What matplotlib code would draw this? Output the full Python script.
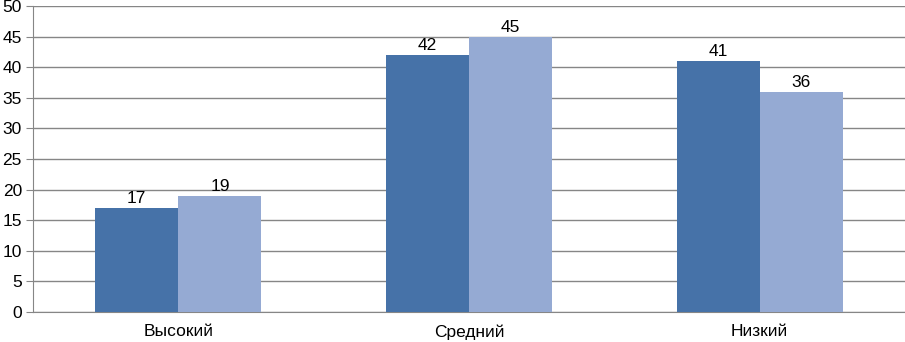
import matplotlib
matplotlib.use("Agg")
import matplotlib.pyplot as plt
import numpy as np

categories = ["Высокий", "Средний", "Низкий"]
series1 = [17, 42, 41]
series2 = [19, 45, 36]
yticks = list(range(0, 55, 5))

plt.rcParams['font.family'] = ['Liberation Sans', 'DejaVu Sans']

fig = plt.figure(figsize=(9.05, 3.42), dpi=100)
ax = fig.add_axes([33/905, 30/342, (905-33)/905, (312-6)/342])

x = np.arange(len(categories))
w = 0.286
b1 = ax.bar(x - w/2, series1, w, color='#4672A8', zorder=3)
b2 = ax.bar(x + w/2, series2, w, color='#95AAD3', zorder=3)

for bars, vals in ((b1, series1), (b2, series2)):
    for r, v in zip(bars, vals):
        ax.text(r.get_x() + r.get_width()/2, v + 0.3, str(v), ha='center', va='bottom',
                fontsize=12.5, color='black')

ax.set_xlim(-0.5, len(categories) - 0.5)
ax.set_ylim(0, 50)
ax.set_yticks(yticks)
ax.set_yticklabels([str(t) for t in yticks], fontsize=12.5)
ax.set_xticks(x)
ax.set_xticklabels(categories, fontsize=12.5)
ax.tick_params(axis='x', length=0, pad=9)
ax.tick_params(axis='y', length=5, color='#868686', pad=3)
ax.yaxis.grid(True, color='#868686', linewidth=1, zorder=0)
ax.set_axisbelow(True)
for s in ['top', 'right']:
    ax.spines[s].set_visible(False)
ax.spines['left'].set_color('#868686')
ax.spines['bottom'].set_color('#868686')

fig.savefig('out.png', dpi=100)
